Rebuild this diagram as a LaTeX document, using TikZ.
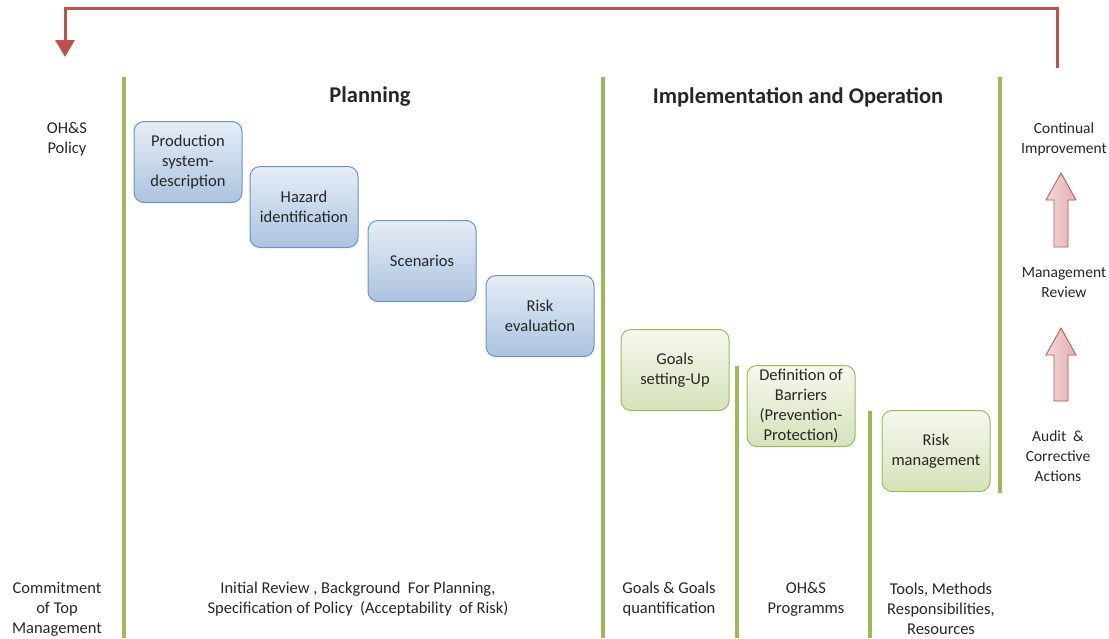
\documentclass[tikz,border=0pt]{standalone}
\usepackage{fontspec}
\setmainfont{Carlito}
\usetikzlibrary{arrows.meta}

\definecolor{ohsgreen}{HTML}{9BBB59}
\definecolor{ohsred}{HTML}{C0504D}
\definecolor{ohsblue}{HTML}{4F81BD}
\definecolor{ohstext}{HTML}{262626}

\begin{document}
\begin{tikzpicture}[x=1pt, y=-1pt,
  every node/.style={font=\fontsize{16.5}{20}\selectfont, text=ohstext, align=center, inner sep=0pt},
  title/.style={font=\fontsize{22.5}{26}\selectfont\bfseries},
  sidelabel/.style={font=\fontsize{15.5}{20}\selectfont},
  planbox/.style={draw=ohsblue!85, line width=1pt, rounded corners=10pt, minimum width=108pt, minimum height=81pt, top color=ohsblue!14, bottom color=ohsblue!48},
  implbox/.style={draw=ohsgreen, line width=1pt, rounded corners=10pt, minimum width=108pt, minimum height=81pt, top color=ohsgreen!10, bottom color=ohsgreen!42},
  phase/.style={draw=ohsgreen, line width=3.5pt},
  blockarrow/.style={draw=ohsred, line width=0.8pt, left color=ohsred!22, right color=ohsred!45}]

\useasboundingbox (0,0) rectangle (1109,638);

% phase separators
\draw[phase] (124,77) -- (124,638);
\draw[phase] (603,77) -- (603,638);
\draw[phase] (1000,77) -- (1000,493);
\draw[phase] (737,366) -- (737,638);
\draw[phase] (870,411) -- (870,638);

% feedback loop
\coordinate (loopstart) at (1057,68);
\coordinate (loopend) at (65,57);
\draw[ohsred, line width=3pt, -{Triangle[width=19pt,length=17pt]}] (loopstart) |- (65,8) -- (loopend);

\node[title] (planning) at (370,97) {Planning};
\node[title] (implementation) at (798,97) {Implementation and Operation};

\node (policy) at (67,139) {OH\&S\\Policy};

% planning steps
\node[planbox] (production) at (188,162) {Production\\system-\\description};
\node[planbox] (hazard) at (304,207) {Hazard\\identification};
\node[planbox] (scenarios) at (422,261) {Scenarios};
\node[planbox] (evaluation) at (540,316) {Risk\\evaluation};

% implementation steps
\node[implbox] (goals) at (675,370) {Goals\\setting-Up};
\node[implbox] (barriers) at (801,406) {Definition of\\Barriers\\(Prevention-\\Protection)};
\node[implbox] (riskmgmt) at (936,451) {Risk\\management};

% improvement column
\node[sidelabel] (continual) at (1064,139) {Continual\\Improvement};
\node[sidelabel] (review) at (1064,283) {Management\\Review};
\node[sidelabel] (audit) at (1058,456) {Audit~ \&\\Corrective\\Actions};

\draw[blockarrow] (1054,247) -- (1054,200) -- (1046,200) -- (1061,173) -- (1076,200) -- (1068,200) -- (1068,247) -- cycle;
\draw[blockarrow] (1054,401) -- (1054,355) -- (1046,355) -- (1061,328) -- (1076,355) -- (1068,355) -- (1068,401) -- cycle;

% bottom row
\node (commitment) at (57,609) {Commitment\\of Top\\Management};
\node (review0) at (358,599) {Initial Review , Background~ For Planning,\\Specification of Policy~ (Acceptability~ of Risk)};
\node (quant) at (669,599) {Goals \& Goals\\quantification};
\node (programms) at (806,599) {OH\&S\\Programms};
\node (tools) at (941,609) {Tools, Methods\\Responsibilities,\\Resources};

\end{tikzpicture}
\end{document}
